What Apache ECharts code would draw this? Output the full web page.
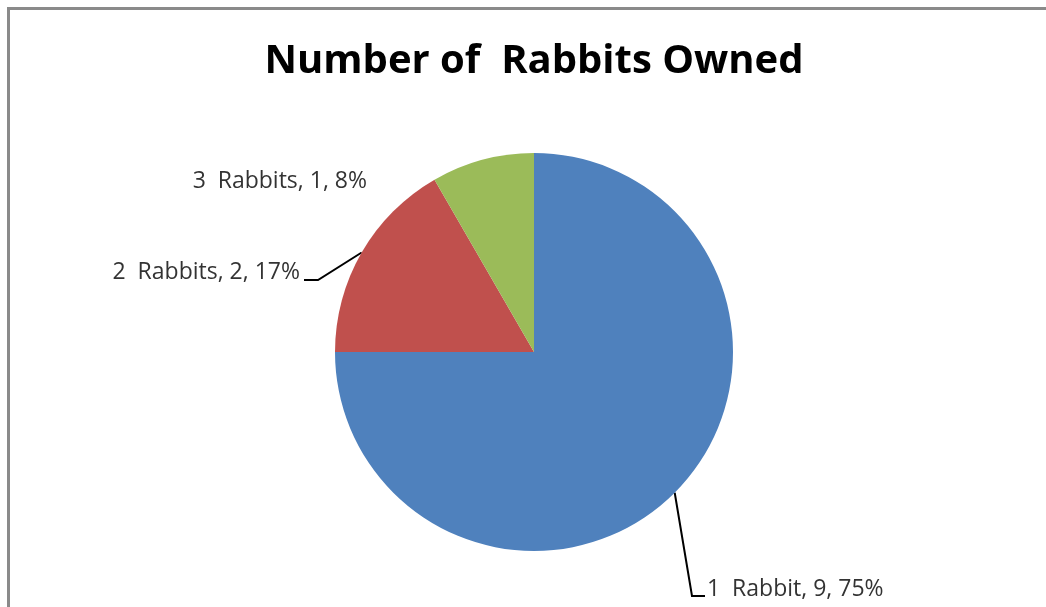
<!DOCTYPE html>
<html>
<head>
<meta charset="utf-8">
<title>Number of Rabbits Owned</title>
<script src="https://cdn.jsdelivr.net/npm/echarts@6/dist/echarts.min.js"></script>
<style>
  html, body { margin: 0; padding: 0; background: #ffffff; }
  #chart { width: 1046px; height: 607px; }
</style>
</head>
<body>
<div id="chart"></div>
<script>
// Rabbit ownership counts
const categories = ['1  Rabbit', '2  Rabbits', '3  Rabbits'];
const counts = [9, 2, 1];
const sliceColors = ['#4F81BD', '#C0504D', '#9BBB59'];

const chart = echarts.init(document.getElementById('chart'), null, { renderer: 'canvas' });

const CX = 534, CY = 352, R = 199;
const total = counts.reduce((a, b) => a + b, 0);

// mid-angle point on the rim of slice i (start at 12 o'clock, clockwise)
function rimPoint(i) {
  let before = 0;
  for (let k = 0; k < i; k++) before += counts[k];
  const frac = (before + counts[i] / 2) / total;
  const a = -Math.PI / 2 + frac * Math.PI * 2;
  return [CX + R * Math.cos(a), CY + R * Math.sin(a)];
}

// label placement: anchor and elbow of each leader line
const labelPlacement = [
  { x: 707, y: 589, align: 'left', elbow: [692, 596], end: [705, 596] },
  { x: 300, y: 272, align: 'right', elbow: [318, 280], end: [304, 280] },
  { x: 367, y: 181, align: 'right', elbow: null, end: null }
];

chart.setOption({
  animation: false,
  backgroundColor: '#ffffff',
  title: {
    text: 'Number of  Rabbits Owned',
    left: CX - 5,
    textAlign: 'center',
    top: 37,
    textStyle: {
      fontFamily: 'Open Sans',
      fontWeight: 'bold',
      fontSize: 40,
      color: '#000000'
    }
  },
  graphic: [{
    type: 'polyline',
    shape: { points: [[8.5, 607], [8.5, 8.5], [1046, 8.5]] },
    style: { stroke: '#8a8a8a', lineWidth: 3, fill: null },
    silent: true
  }],
  series: [{
    type: 'pie',
    center: [CX, CY],
    radius: R,
    startAngle: 90,
    clockwise: true,
    percentPrecision: 0,
    avoidLabelOverlap: false,
    data: categories.map((name, i) => ({
      name: name,
      value: counts[i],
      itemStyle: { color: sliceColors[i] },
      labelLine: { show: labelPlacement[i].elbow !== null }
    })),
    itemStyle: { borderWidth: 0 },
    label: {
      show: true,
      position: 'outside',
      formatter: '{b}, {c}, {d}%',
      fontFamily: 'Open Sans',
      fontSize: 23,
      color: '#333333'
    },
    labelLine: {
      show: true,
      lineStyle: { color: '#000000', width: 2 }
    },
    labelLayout: function (p) {
      const pl = labelPlacement[p.dataIndex];
      const out = {
        x: pl.x,
        y: pl.y,
        align: pl.align,
        verticalAlign: 'middle'
      };
      if (pl.elbow) {
        out.labelLinePoints = [rimPoint(p.dataIndex), pl.elbow, pl.end];
      }
      return out;
    }
  }]
});
</script>
</body>
</html>
